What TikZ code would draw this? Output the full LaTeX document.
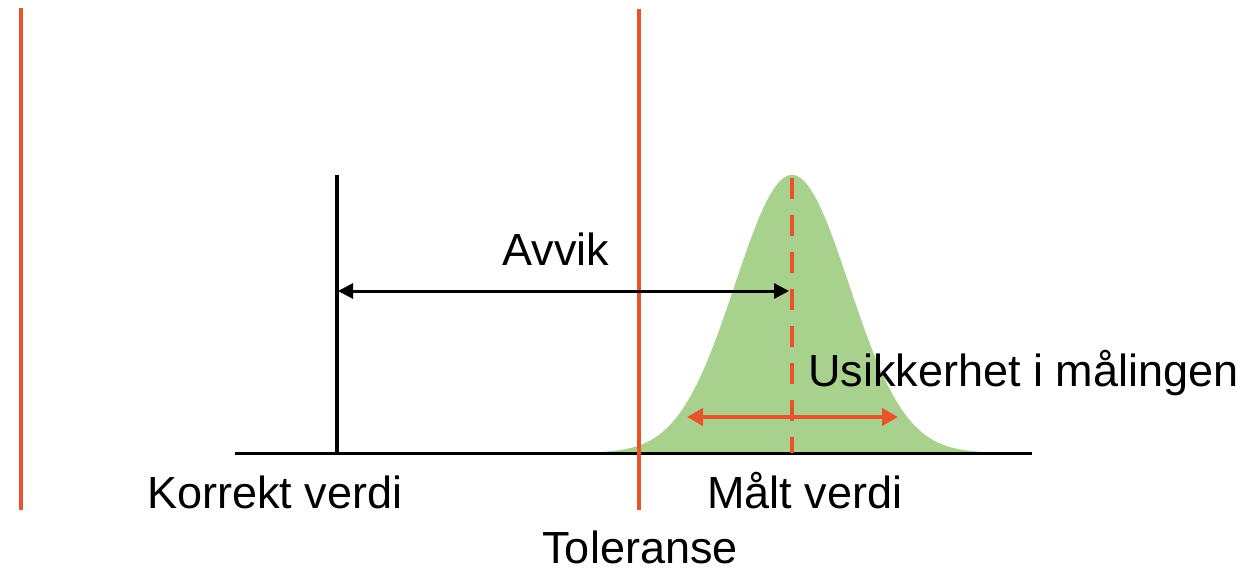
\documentclass[tikz,border=0pt]{standalone}
\usepackage{fontspec}
\setmainfont{Liberation Sans}
\usetikzlibrary{arrows.meta}
\definecolor{tolred}{HTML}{E9532B}
\definecolor{gaussgreen}{HTML}{A9D18E}
\begin{document}
\begin{tikzpicture}[x=0.5pt,y=-0.5pt,
  lbl/.style={anchor=base,inner sep=0pt,font=\fontsize{22.5}{27}\selectfont},
  tolline/.style={draw=tolred,line width=2pt},
  axisline/.style={draw=black,line width=1.5pt},
  trueline/.style={draw=black,line width=2.25pt},
  devarrow/.style={draw=black,line width=1.5pt,{Triangle[length=7.5pt,width=7.5pt]}-{Triangle[length=7.5pt,width=7.5pt]}},
  uncarrow/.style={draw=tolred,line width=2pt,{Triangle[length=8pt,width=8.5pt]}-{Triangle[length=8pt,width=8.5pt]}},
  meanline/.style={draw=tolred,line width=2.25pt,dash pattern=on 10.5pt off 8pt}]
\useasboundingbox (0,0) rectangle (1259,568);
% Gaussian
\fill[gaussgreen] plot[domain=560:1024,samples=240] (\x,{453-278*exp(-0.5*((\x-792)/57)^2)}) -- cycle;
% coordinates
\coordinate (tolL1) at (21,8);
\coordinate (tolL2) at (21,510);
\coordinate (tolR1) at (639,9);
\coordinate (tolR2) at (639,510);
\coordinate (axL) at (235,453);
\coordinate (axR) at (1032,453);
\coordinate (trueTop) at (337,175);
\coordinate (trueBot) at (337,453);
\coordinate (devL) at (338,291);
\coordinate (devR) at (789,291);
\coordinate (meanTop) at (792,178);
\coordinate (meanBot) at (792,453);
\coordinate (uncL) at (687,417);
\coordinate (uncR) at (898,417);
% lines
\draw[axisline] (axL) -- (axR);
\draw[trueline] (trueTop) -- (trueBot);
\draw[meanline] (meanTop) -- (meanBot);
\draw[tolline] (tolL1) -- (tolL2);
\draw[tolline] (tolR1) -- (tolR2);
\draw[devarrow] (devL) -- (devR);
\draw[uncarrow] (uncL) -- (uncR);
% labels
\node[lbl] (avvik) at (556,265) {Avvik};
\node[lbl,anchor=base west] (usikker) at (808,386) {Usikkerhet i målingen};
\node[lbl] (korrekt) at (275,508) {Korrekt verdi};
\node[lbl] (maalt) at (805,508) {Målt verdi};
\node[lbl] (toleranse) at (640,563) {Toleranse};
\end{tikzpicture}
\end{document}
